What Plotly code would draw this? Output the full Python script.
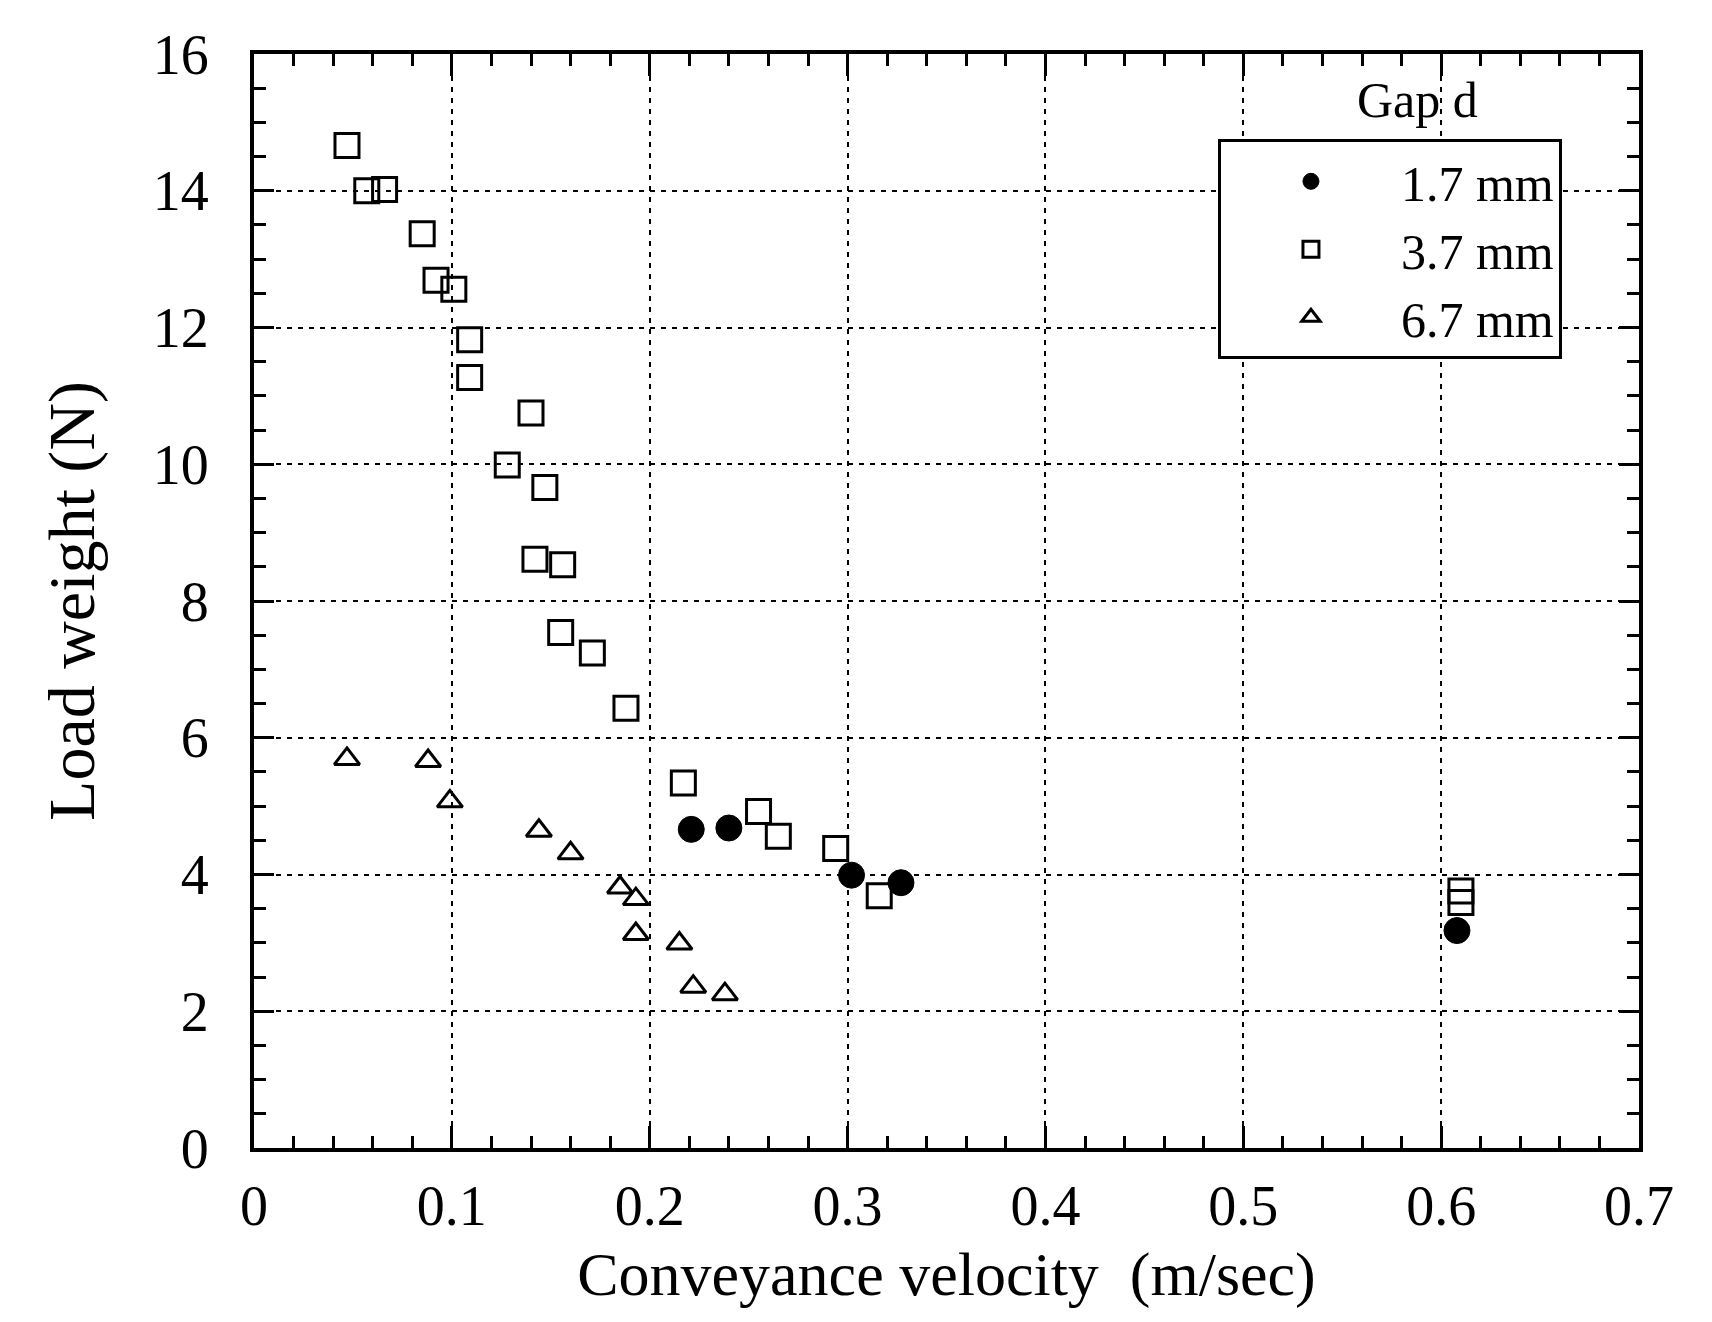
import plotly.graph_objects as go

# ---- data ----
x_17 = [0.221, 0.240, 0.302, 0.327, 0.608]
y_17 = [4.66, 4.68, 3.99, 3.88, 3.18]

x_37 = [0.047, 0.057, 0.066, 0.085, 0.092, 0.101, 0.109, 0.109, 0.140, 0.128, 0.147,
        0.142, 0.156, 0.155, 0.171, 0.188, 0.217, 0.255, 0.265, 0.294, 0.316, 0.610, 0.610]
y_37 = [14.66, 14.00, 14.02, 13.37, 12.69, 12.56, 11.82, 11.27, 10.75, 9.99, 9.66,
        8.61, 8.53, 7.54, 7.24, 6.43, 5.34, 4.92, 4.56, 4.38, 3.69, 3.76, 3.59]

x_67 = [0.047, 0.088, 0.099, 0.144, 0.160, 0.185, 0.193, 0.193, 0.215, 0.222, 0.238]
y_67 = [5.69, 5.66, 5.07, 4.64, 4.31, 3.81, 3.64, 3.13, 2.99, 2.36, 2.25]

names = ["1.7 mm", "3.7 mm", "6.7 mm"]
x_ticks = [0, 0.1, 0.2, 0.3, 0.4, 0.5, 0.6, 0.7]
x_ticklabels = ["0", "0.1", "0.2", "0.3", "0.4", "0.5", "0.6", "0.7"]
y_ticks = [0, 2, 4, 6, 8, 10, 12, 14, 16]

FONT = "Liberation Serif"

fig = go.Figure()
fig.add_trace(go.Scatter(x=x_17, y=y_17, mode="markers", name=names[0],
                         marker=dict(symbol="circle", size=26, color="black",
                                     line=dict(color="black", width=1))))
fig.add_trace(go.Scatter(x=x_37, y=y_37, mode="markers", name=names[1],
                         marker=dict(symbol="square-open", size=24, color="black",
                                     line=dict(color="black", width=3))))
fig.add_trace(go.Scatter(x=x_67, y=y_67, mode="markers", name=names[2],
                         marker=dict(symbol="triangle-up-open", size=22, color="black",
                                     line=dict(color="black", width=3))))

axis_common = dict(
    showline=True, linecolor="black", linewidth=4, mirror="allticks",
    ticks="inside", tickcolor="black", tickwidth=3,
    showgrid=True, gridcolor="black", gridwidth=2, griddash="5px,6px",
    zeroline=False,
    tickfont=dict(family=FONT, size=56, color="black"),
)

fig.update_xaxes(
    range=[0, 0.7], tickvals=x_ticks, ticktext=x_ticklabels, ticklen=22,
    minor=dict(dtick=0.02, ticks="inside", ticklen=12, tickwidth=3, tickcolor="black", showgrid=False),
    title=dict(text="Conveyance velocity\u00a0\u00a0(m/sec)", font=dict(family=FONT, size=62, color="black"),
               standoff=16),
    ticklabelstandoff=6,
    **axis_common)
fig.update_yaxes(
    range=[0, 16], tickvals=y_ticks, ticklen=20,
    minor=dict(dtick=0.5, ticks="inside", ticklen=12, tickwidth=3, tickcolor="black", showgrid=False),
    title=dict(text="Load weight (N)", font=dict(family=FONT, size=66, color="black"), standoff=38),
    ticklabelstandoff=30,
    **axis_common)

fig.add_annotation(text="Gap d", xref="paper", yref="paper", x=0.84, y=0.985,
                   showarrow=False, xanchor="center", yanchor="top",
                   font=dict(family=FONT, size=50, color="black"))

fig.update_layout(
    width=1712, height=1322,
    margin=dict(l=246, r=81, t=46, b=182),
    paper_bgcolor="white", plot_bgcolor="white",
    font=dict(family=FONT, color="black"),
    showlegend=True,
    legend=dict(x=0.696, y=0.922, xanchor="left", yanchor="top",
                bgcolor="white", bordercolor="black", borderwidth=3,
                font=dict(family=FONT, size=50, color="black"),
                itemwidth=170, itemsizing="trace"),
)

fig.write_html("out.html")
